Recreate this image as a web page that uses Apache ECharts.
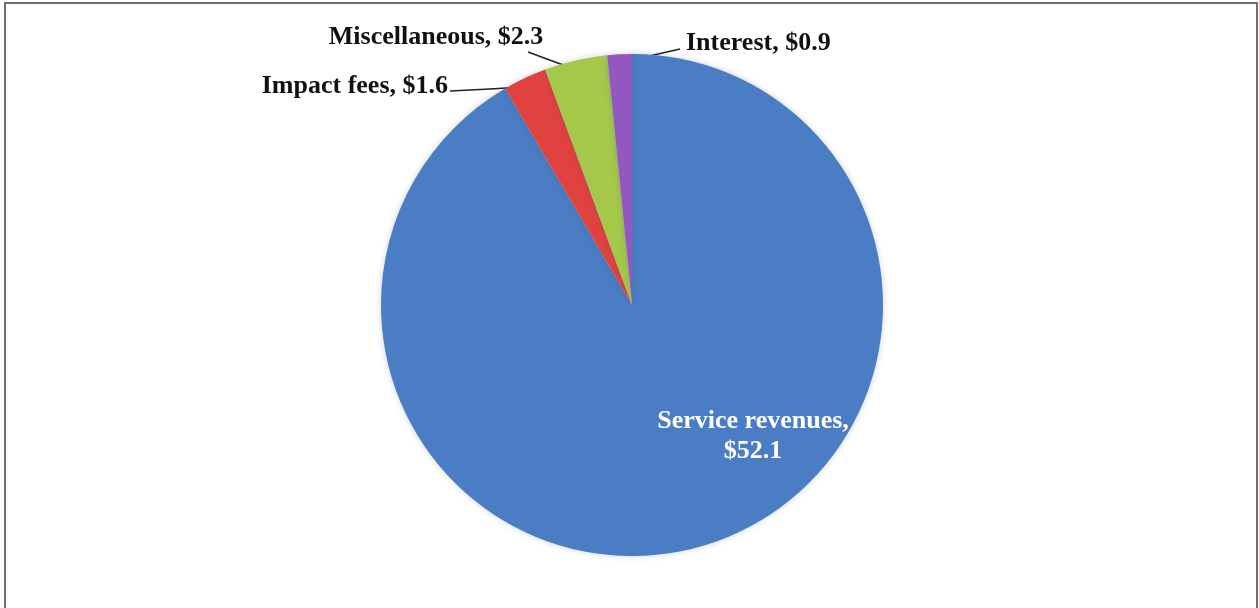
<!DOCTYPE html>
<html>
<head>
<meta charset="utf-8">
<script src="https://cdn.jsdelivr.net/npm/echarts@6/dist/echarts.min.js"></script>
<style>
html,body{margin:0;padding:0;background:#fff;}
#chart{position:absolute;left:0;top:0;width:1259px;height:608px;}
#frame{position:absolute;left:4px;top:2px;width:1250px;height:700px;border-left:2px solid #6f6f72;border-top:2px solid #6f6f72;border-right:2px solid #6f6f72;pointer-events:none;}
</style>
</head>
<body>
<div id="chart"></div>
<div id="frame"></div>
<script>
const categories = ['Service revenues', 'Impact fees', 'Miscellaneous', 'Interest'];
const values = [52.1, 1.6, 2.3, 0.9];
const colors = ['#4a7dc4', '#e0433f', '#a4c94a', '#9258bf'];

const chart = echarts.init(document.getElementById('chart'));
const labelFont = {
  fontFamily: '"Liberation Serif", "Times New Roman", serif',
  fontWeight: 'bold',
  fontSize: 26
};
const data = categories.map((c, i) => ({
  name: c,
  value: values[i],
  itemStyle: { color: colors[i] },
  label: i === 0
    ? { position: 'inside', color: '#ffffff', formatter: '{b},\n${c}', lineHeight: 30, align: 'center', overflow: 'none' }
    : { position: 'outside', color: '#111111', formatter: '{b}, ${c}' },
  labelLine: i === 0 ? { show: false } : { show: true }
}));

// label placement (x, y, align) and leader line points per slice index
const layouts = [
  { x: 753, y: 436, align: 'center', verticalAlign: 'middle' },
  { x: 448, y: 86, align: 'right', verticalAlign: 'middle', pts: [[523, 87], [490, 89], [450, 91]] },
  { x: 436, y: 37, align: 'center', verticalAlign: 'middle', pts: [[583, 72], [555, 62], [528, 52]] },
  { x: 686, y: 43, align: 'left', verticalAlign: 'middle', pts: [[610, 65], [645, 57], [680, 49]] }
];

chart.setOption({
  animation: false,
  series: [{
    type: 'pie',
    center: [632, 305],
    radius: [0, 251],
    startAngle: 90,
    clockwise: true,
    avoidLabelOverlap: false,
    data: data,
    label: Object.assign({ show: true }, labelFont),
    labelLine: { lineStyle: { color: '#222', width: 1.5 } },
    itemStyle: { borderWidth: 0, shadowBlur: 6, shadowColor: 'rgba(60,80,120,0.25)' },
    labelLayout: function (p) {
      const l = layouts[p.dataIndex];
      const r = { x: l.x, y: l.y, align: l.align, verticalAlign: l.verticalAlign };
      if (l.pts) r.labelLinePoints = l.pts;
      return r;
    }
  }]
});
</script>
</body>
</html>
